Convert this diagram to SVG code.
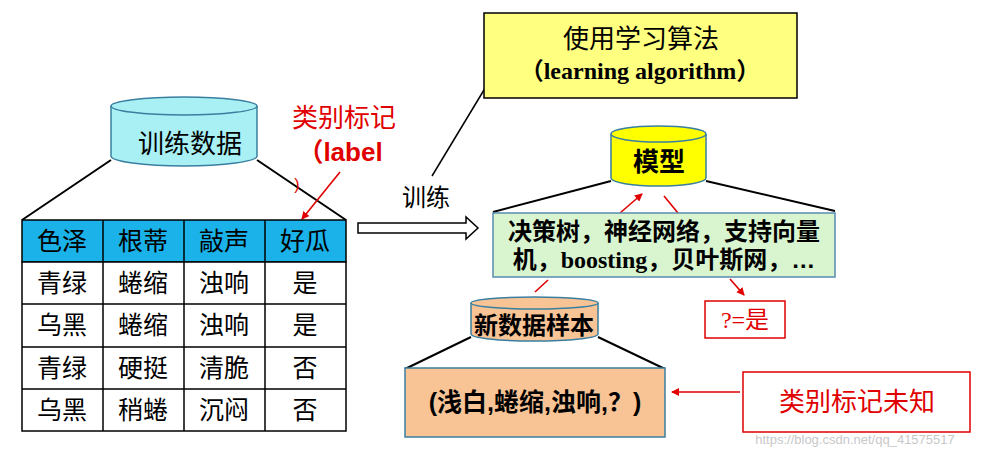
<svg xmlns="http://www.w3.org/2000/svg" width="983" height="457" viewBox="0 0 983 457">
<style>
text{font-family:"Liberation Sans","Noto Sans CJK SC",sans-serif;fill:#000;text-anchor:middle}
.c{font-size:25px}
.r{fill:#e00000}
.l{stroke:#000;stroke-width:2;fill:none}
.rl{stroke:#e00000;stroke-width:1.6;fill:none}
.cell{fill:#fff;stroke:#000;stroke-width:1.5}
.s{font-family:"Liberation Serif","Noto Sans CJK SC",serif;font-weight:bold}
</style>
<defs>
<marker id="ra" markerWidth="8" markerHeight="8" refX="7" refY="4" orient="auto" markerUnits="userSpaceOnUse"><path d="M0,0L8,4L0,8z" fill="#e00000"/></marker>
</defs>
<rect width="983" height="457" fill="#fff"/>
<g id="connectors">
<path class="l" d="M111,160L22,220M257,160L346,220"/>
<path class="l" d="M611,181L493,212M706,181L835,211"/>
<path class="l" d="M471,337L405,369M598,337L665,369"/>
<path d="M432,176L490,80" stroke="#000" stroke-width="1.5"/>
<path class="rl" d="M340,172L302,219" marker-end="url(#ra)"/>
<path class="rl" d="M620,213L642,194" marker-end="url(#ra)"/>
<path class="rl" d="M664,196L678,213"/>
<path class="rl" d="M548,280L535,292"/>
<path class="rl" d="M730,279L744,295" marker-end="url(#ra)"/>
<path class="rl" d="M740,392L672,392" marker-end="url(#ra)"/>
<path d="M358,223H466V217L478,228L466,239V233H358Z" fill="#fff" stroke="#000" stroke-width="1.5"/>
<text x="426" y="206" style="font-size:24px">训练</text>
</g>
<g id="train-data">
<path d="M111,106V156A73,10 0 0 0 257,156V106" fill="#a8f0f4" stroke="#3a7fa0" stroke-width="1.5"/>
<ellipse cx="184" cy="106" rx="73" ry="9" fill="#a8f0f4" stroke="#3a7fa0" stroke-width="1.5"/>
<text x="190" y="153" style="font-size:26px">训练数据</text>
</g>
<g id="label-note">
<text x="344" y="127" class="r" style="font-size:26px">类别标记</text>
<text x="340" y="161" class="r" style="font-size:26px;font-weight:bold">（label</text>
<text x="297" y="190" class="r" style="font-size:16px">)</text>
</g>
<g id="table">
<rect x="22" y="220" width="324" height="42" fill="#1ab2e8" stroke="#000" stroke-width="1.5"/>
<rect x="22" y="262" width="324" height="169" class="cell"/>
<path d="M103,220V431M184,220V431M265,220V431M22,304H346M22,347H346M22,389H346" stroke="#000" stroke-width="1.5"/>
<text x="62" y="250" class="c">色泽</text><text x="143" y="250" class="c">根蒂</text><text x="224" y="250" class="c">敲声</text><text x="305" y="250" class="c">好瓜</text>
<text x="62" y="292" class="c">青绿</text><text x="143" y="292" class="c">蜷缩</text><text x="224" y="292" class="c">浊响</text><text x="305" y="292" class="c">是</text>
<text x="62" y="334" class="c">乌黑</text><text x="143" y="334" class="c">蜷缩</text><text x="224" y="334" class="c">浊响</text><text x="305" y="334" class="c">是</text>
<text x="62" y="377" class="c">青绿</text><text x="143" y="377" class="c">硬挺</text><text x="224" y="377" class="c">清脆</text><text x="305" y="377" class="c">否</text>
<text x="62" y="419" class="c">乌黑</text><text x="143" y="419" class="c">稍蜷</text><text x="224" y="419" class="c">沉闷</text><text x="305" y="419" class="c">否</text>
</g>
<g id="algorithm">
<rect x="484" y="13" width="313" height="85" fill="#ffff80" stroke="#000" stroke-width="1.5"/>
<text x="641" y="48" style="font-size:26px">使用学习算法</text>
<text x="640" y="79" class="s" style="font-size:24px">（learning algorithm）</text>
</g>
<g id="model">
<path d="M611,134V178A47.5,8 0 0 0 706,178V134" fill="#ffff00" stroke="#3a7fa0" stroke-width="1.5"/>
<ellipse cx="658.5" cy="134" rx="47.5" ry="8" fill="#ffff00" stroke="#3a7fa0" stroke-width="1.5"/>
<text x="659" y="171" style="font-size:26px;font-weight:bold">模型</text>
</g>
<g id="methods">
<rect x="493" y="213" width="342" height="64" fill="#d8f5d0" stroke="#5a8ab0" stroke-width="1.5"/>
<text x="664" y="240" style="font-size:24px;font-weight:bold">决策树，神经网络，支持向量</text>
<text x="664" y="268" style="font-size:24px;font-weight:bold">机，<tspan class="s" style="font-family:'Liberation Serif',serif">boosting</tspan>，贝叶斯网，…</text>
</g>
<g id="new-sample">
<path d="M471,303V334A63.5,7 0 0 0 598,334V303" fill="#f8c496" stroke="#3a7fa0" stroke-width="1.5"/>
<ellipse cx="534.5" cy="303" rx="63.5" ry="6" fill="#f8c496" stroke="#3a7fa0" stroke-width="1.5"/>
<text x="534" y="334" style="font-weight:bold;font-size:24px">新数据样本</text>
</g>
<g id="sample">
<rect x="405" y="368" width="260" height="69" fill="#f8c496" stroke="#3a7fa0" stroke-width="1.5"/>
<text x="535" y="411" style="font-size:25px;font-weight:bold">(浅白,蜷缩,浊响,？)</text>
</g>
<g id="result">
<rect x="705" y="301" width="80" height="37" fill="#fff" stroke="#e00000" stroke-width="1.5"/>
<text x="745" y="328" class="r" style="font-size:24px;font-family:'Liberation Serif','Noto Sans CJK SC',serif">?=是</text>
</g>
<g id="unknown">
<rect x="743" y="372" width="227" height="60" fill="#fff" stroke="#e00000" stroke-width="1.5"/>
<text x="857" y="411" class="r" style="font-size:26px">类别标记未知</text>
</g>
<text x="855" y="444" style="font-size:13px;fill:#c8c8c8">https://blog.csdn.net/qq_41575517</text>
</svg>
